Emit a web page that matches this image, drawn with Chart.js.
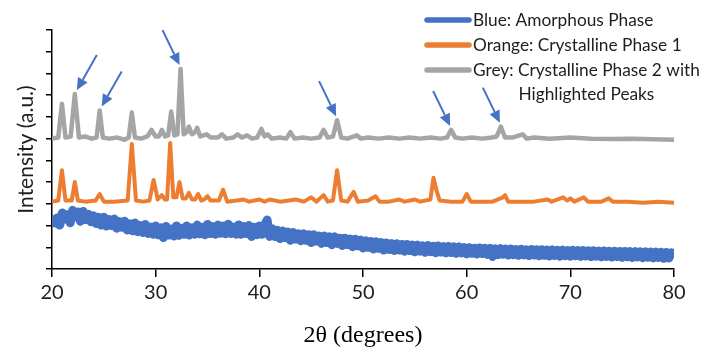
<!DOCTYPE html>
<html>
<head>
<meta charset="utf-8">
<script src="https://cdn.jsdelivr.net/npm/chart.js@4.4.0/dist/chart.umd.min.js"></script>
<style>
  body { margin: 0; background: #fff; }
  #wrap { width: 705px; height: 354px; position: relative; }
</style>
</head>
<body>
<div id="wrap"><canvas id="xrd"></canvas></div>
<script>
// Legend labels
const seriesLabels = [
  ["Blue: Amorphous Phase"],
  ["Orange: Crystalline Phase 1"],
  ["Grey: Crystalline Phase 2 with", "Highlighted Peaks"]
];
const seriesColors = ['#4472C4', '#ED7D31', '#A5A5A5'];

// Axis ticks
const xTicks = [20, 30, 40, 50, 60, 70, 80];
const yTickCount = 11; // unlabeled ticks 0..11

// Blue: amorphous (noisy band), sampled every 0.25 deg
const blueTheta = [
  20, 20.25, 20.5, 20.75, 21, 21.25, 21.5, 21.75, 22, 22.25, 22.5, 22.75, 23, 23.25, 23.5, 23.75, 24, 24.25, 24.5, 24.75,
  25, 25.25, 25.5, 25.75, 26, 26.25, 26.5, 26.75, 27, 27.25, 27.5, 27.75, 28, 28.25, 28.5, 28.75, 29, 29.25, 29.5, 29.75,
  30, 30.25, 30.5, 30.75, 31, 31.25, 31.5, 31.75, 32, 32.25, 32.5, 32.75, 33, 33.25, 33.5, 33.75, 34, 34.25, 34.5, 34.75,
  35, 35.25, 35.5, 35.75, 36, 36.25, 36.5, 36.75, 37, 37.25, 37.5, 37.75, 38, 38.25, 38.5, 38.75, 39, 39.25, 39.5, 39.75,
  40, 40.25, 40.5, 40.75, 41, 41.25, 41.5, 41.75, 42, 42.25, 42.5, 42.75, 43, 43.25, 43.5, 43.75, 44, 44.25, 44.5, 44.75,
  45, 45.25, 45.5, 45.75, 46, 46.25, 46.5, 46.75, 47, 47.25, 47.5, 47.75, 48, 48.25, 48.5, 48.75, 49, 49.25, 49.5, 49.75,
  50, 50.25, 50.5, 50.75, 51, 51.25, 51.5, 51.75, 52, 52.25, 52.5, 52.75, 53, 53.25, 53.5, 53.75, 54, 54.25, 54.5, 54.75,
  55, 55.25, 55.5, 55.75, 56, 56.25, 56.5, 56.75, 57, 57.25, 57.5, 57.75, 58, 58.25, 58.5, 58.75, 59, 59.25, 59.5, 59.75,
  60, 60.25, 60.5, 60.75, 61, 61.25, 61.5, 61.75, 62, 62.25, 62.5, 62.75, 63, 63.25, 63.5, 63.75, 64, 64.25, 64.5, 64.75,
  65, 65.25, 65.5, 65.75, 66, 66.25, 66.5, 66.75, 67, 67.25, 67.5, 67.75, 68, 68.25, 68.5, 68.75, 69, 69.25, 69.5, 69.75,
  70, 70.25, 70.5, 70.75, 71, 71.25, 71.5, 71.75, 72, 72.25, 72.5, 72.75, 73, 73.25, 73.5, 73.75, 74, 74.25, 74.5, 74.75,
  75, 75.25, 75.5, 75.75, 76, 76.25, 76.5, 76.75, 77, 77.25, 77.5, 77.75, 78, 78.25, 78.5, 78.75, 79, 79.25, 79.5, 79.75,
  80
];
const blueIntensity = [
  2.45, 2.12, 2.35, 2.02, 2.58, 2.3, 2.5, 2.13, 2.7, 2.4, 2.62, 2.2, 2.65, 2.28, 2.52, 2.18, 2.45, 2.1, 2.38, 2.02,
  2.38, 1.98, 2.28, 2.0, 2.3, 1.88, 2.18, 1.92, 2.2, 1.8, 2.08, 1.76, 2.12, 1.72, 2.0, 1.68, 2.05, 1.64, 1.93, 1.6,
  1.98, 1.58, 1.9, 1.45, 1.96, 1.56, 1.84, 1.52, 1.98, 1.55, 1.88, 1.6, 1.98, 1.56, 1.9, 1.6, 2.02, 1.62, 1.92, 1.58,
  2.05, 1.63, 1.95, 1.6, 2.02, 1.65, 1.98, 1.62, 2.06, 1.64, 1.93, 1.6, 2.03, 1.6, 1.95, 1.63, 2.0, 1.5, 1.92, 1.58,
  1.98, 1.6, 2.0, 2.25, 1.5, 1.85, 1.5, 1.78, 1.4, 1.75, 1.45, 1.7, 1.32, 1.68, 1.38, 1.62, 1.3, 1.62, 1.32, 1.58,
  1.22, 1.58, 1.28, 1.52, 1.18, 1.52, 1.22, 1.48, 1.12, 1.48, 1.18, 1.42, 1.08, 1.42, 1.12, 1.38, 1.03, 1.37, 1.07, 1.33,
  0.97, 1.3, 1.0, 1.27, 0.92, 1.25, 0.95, 1.22, 0.87, 1.2, 0.9, 1.17, 0.85, 1.16, 0.87, 1.13, 0.82, 1.13, 0.85, 1.1,
  0.79, 1.1, 0.82, 1.07, 0.77, 1.08, 0.8, 1.05, 0.75, 1.06, 0.78, 1.03, 0.74, 1.04, 0.76, 1.02, 0.72, 1.02, 0.74, 0.99,
  0.7, 0.98, 0.72, 0.96, 0.69, 0.97, 0.71, 0.95, 0.67, 0.95, 0.58, 0.93, 0.66, 0.94, 0.68, 0.92, 0.64, 0.92, 0.66, 0.9,
  0.63, 0.91, 0.65, 0.89, 0.62, 0.9, 0.64, 0.88, 0.61, 0.89, 0.63, 0.87, 0.6, 0.88, 0.62, 0.86, 0.59, 0.87, 0.61, 0.85,
  0.59, 0.86, 0.61, 0.85, 0.58, 0.85, 0.6, 0.84, 0.57, 0.84, 0.59, 0.83, 0.56, 0.83, 0.58, 0.82, 0.55, 0.82, 0.57, 0.81,
  0.54, 0.81, 0.56, 0.8, 0.53, 0.8, 0.55, 0.79, 0.52, 0.79, 0.54, 0.78, 0.51, 0.78, 0.53, 0.77, 0.49, 0.76, 0.51, 0.75,
  0.6
];

// Orange: crystalline phase 1
const orangeTheta = [
  20, 20.6, 20.96, 21.3, 21.9, 22.2, 22.5, 23.2, 24.2, 24.6, 25, 26, 27.3, 27.7, 28.1, 28.8, 29.4, 29.8, 30.2, 30.6,
  30.9, 31.1, 31.4, 31.7, 32, 32.3, 32.6, 32.9, 33.2, 33.5, 33.8, 34.1, 34.4, 34.7, 35, 35.3, 36.1, 36.5, 36.9, 37.8,
  38.5, 39, 40, 40.5, 41, 42, 43.5, 44.3, 45, 45.5, 46.2, 46.6, 47.1, 47.5, 47.9, 48.5, 49.1, 49.5, 50.5, 51.2,
  51.6, 52.5, 53.5, 54, 55, 55.5, 56.5, 56.8, 57.1, 57.4, 58.5, 59.6, 60, 60.4, 61.5, 62.5, 63.5, 63.7, 64, 65,
  66.5, 67.8, 68.2, 69.3, 69.7, 70, 70.4, 71.3, 71.7, 73, 73.7, 74.1, 75.5, 77, 78.5, 80
];
const orangeIntensity = [
  3.1, 3.15, 4.55, 3.15, 3.15, 4.0, 3.15, 3.1, 3.15, 3.45, 3.1, 3.1, 3.15, 5.75, 3.15, 3.1, 3.15, 4.1, 3.2, 3.4,
  3.2, 3.2, 5.8, 3.3, 3.3, 4.0, 3.25, 3.25, 3.5, 3.2, 3.2, 3.45, 3.15, 3.2, 3.35, 3.15, 3.15, 3.65, 3.1, 3.15,
  3.2, 3.1, 3.2, 3.1, 3.2, 3.1, 3.2, 3.1, 3.3, 3.1, 3.4, 3.1, 3.15, 4.55, 3.15, 3.1, 3.55, 3.1, 3.15, 3.35,
  3.1, 3.1, 3.2, 3.1, 3.2, 3.1, 3.2, 4.2, 3.6, 3.15, 3.1, 3.1, 3.45, 3.1, 3.1, 3.1, 3.3, 3.4, 3.1, 3.1,
  3.1, 3.2, 3.1, 3.3, 3.15, 3.25, 3.1, 3.3, 3.1, 3.1, 3.25, 3.1, 3.1, 3.05, 3.1, 3.05
];

// Grey: crystalline phase 2
const greyTheta = [
  20, 20.6, 20.96, 21.3, 21.8, 22.2, 22.6, 23.2, 23.8, 24.3, 24.6, 24.9, 25.5, 26.3, 27, 27.4, 27.7, 28, 28.6, 29.2,
  29.6, 30, 30.3, 30.6, 30.9, 31.2, 31.5, 31.8, 32.1, 32.4, 32.7, 33, 33.2, 33.5, 33.8, 34, 34.3, 34.9, 35.3, 36,
  36.4, 36.8, 37.5, 37.9, 38.3, 38.8, 39.3, 39.8, 40.2, 40.5, 40.8, 41.2, 42, 42.6, 43, 43.4, 44.2, 45, 45.8, 46.2,
  46.6, 47.1, 47.5, 47.9, 48.5, 49.4, 49.8, 50.5, 51.5, 52.5, 53.5, 54.5, 55.5, 56.5, 57.5, 58.1, 58.5, 58.9, 59.6, 60.5,
  61.5, 62.4, 62.9, 63.3, 63.7, 64.4, 65.4, 65.8, 66.5, 68, 70, 72, 74, 76, 78, 80
];
const greyIntensity = [
  6.0, 6.05, 7.6, 6.05, 6.1, 8.05, 6.05, 6.1, 6.0, 6.05, 7.3, 6.05, 6.0, 6.05, 5.95, 6.05, 7.2, 6.05, 6.0, 6.1,
  6.4, 6.1, 6.1, 6.4, 6.1, 6.15, 7.25, 6.15, 6.2, 9.2, 6.2, 6.3, 6.55, 6.2, 6.3, 6.5, 6.1, 6.2, 6.05, 6.05,
  6.2, 6.0, 6.05, 6.2, 6.05, 6.15, 6.0, 6.05, 6.45, 6.1, 6.2, 6.0, 6.05, 6.0, 6.3, 6.0, 6.05, 6.0, 6.05, 6.4,
  6.05, 6.1, 6.85, 6.05, 6.0, 6.15, 6.0, 6.05, 6.0, 6.05, 6.0, 6.05, 6.0, 6.05, 6.0, 6.05, 6.4, 6.05, 6.0, 6.05,
  6.0, 6.05, 6.1, 6.55, 6.05, 6.05, 6.2, 6.0, 6.05, 6.0, 6.05, 6.0, 5.98, 6.0, 5.97, 5.95
];

// Highlighted grey peaks (arrows)
const arrowTheta = [22.2, 24.6, 32.4, 47.5, 58.5, 63.3];
const arrowIntensity = [8.05, 7.3, 9.2, 6.85, 6.4, 6.55];
const arrowFrom = ['right', 'right', 'left', 'left', 'left', 'left'];

const toPoints = (xs, ys) => xs.map((v, i) => ({ x: v, y: ys[i] }));

const FONT = 'Lato, "Open Sans", sans-serif';
const textColor = '#1e1e1e';

const overlay = {
  id: 'overlay',
  afterDraw(chart) {
    const { ctx, scales: { x, y } } = chart;
    ctx.save();

    // arrows to highlighted peaks
    ctx.strokeStyle = '#4472C4';
    ctx.fillStyle = '#4472C4';
    ctx.lineWidth = 2;
    arrowTheta.forEach((t, i) => {
      const px = x.getPixelForValue(t);
      const py = y.getPixelForValue(arrowIntensity[i]);
      const tipX = arrowFrom[i] === 'right' ? px + 2 : px - 1;
      const tipY = py - 4;
      const tailX = arrowFrom[i] === 'right' ? tipX + 20 : tipX - 17;
      const tailY = tipY - 35;
      const ang = Math.atan2(tipY - tailY, tipX - tailX);
      const hl = 12, hw = 5.5;
      const bx = tipX - hl * Math.cos(ang), by = tipY - hl * Math.sin(ang);
      ctx.beginPath();
      ctx.moveTo(tailX, tailY);
      ctx.lineTo(bx, by);
      ctx.stroke();
      ctx.beginPath();
      ctx.moveTo(tipX, tipY);
      ctx.lineTo(bx + hw * Math.sin(ang), by - hw * Math.cos(ang));
      ctx.lineTo(bx - hw * Math.sin(ang), by + hw * Math.cos(ang));
      ctx.closePath();
      ctx.fill();
    });

    // legend
    const lx0 = 427, lx1 = 469, tx = 473;
    const rows = [20, 45, 70];
    ctx.font = '17.3px ' + FONT;
    ctx.textBaseline = 'middle';
    seriesLabels.forEach((lines, i) => {
      ctx.strokeStyle = seriesColors[i];
      ctx.lineWidth = 5.5;
      ctx.lineCap = 'round';
      ctx.beginPath();
      ctx.moveTo(lx0, rows[i]);
      ctx.lineTo(lx1, rows[i]);
      ctx.stroke();
      ctx.fillStyle = textColor;
      ctx.textAlign = 'left';
      ctx.fillText(lines[0], tx, rows[i]);
      if (lines[1]) {
        const w0 = ctx.measureText(lines[0]).width;
        ctx.textAlign = 'center';
        ctx.fillText(lines[1], tx + w0 / 2, rows[i] + 24);
      }
    });
    ctx.restore();
  }
};

new Chart(document.getElementById('xrd'), {
  type: 'line',
  data: {
    datasets: [
      { label: seriesLabels[0].join(' '), data: toPoints(blueTheta, blueIntensity),
        borderColor: seriesColors[0], borderWidth: 9, borderCapStyle: 'butt' },
      { label: seriesLabels[1].join(' '), data: toPoints(orangeTheta, orangeIntensity),
        borderColor: seriesColors[1], borderWidth: 4 },
      { label: seriesLabels[2].join(' '), data: toPoints(greyTheta, greyIntensity),
        borderColor: seriesColors[2], borderWidth: 4.5 }
    ]
  },
  options: {
    responsive: true,
    maintainAspectRatio: false,
    animation: false,
    elements: {
      point: { radius: 0 },
      line: { tension: 0, borderJoinStyle: 'round', borderCapStyle: 'round' }
    },
    layout: { padding: { top: 30, right: 31, left: 0, bottom: 0 } },
    scales: {
      x: {
        type: 'linear',
        min: xTicks[0],
        max: xTicks[xTicks.length - 1],
        afterBuildTicks: s => { s.ticks = xTicks.map(v => ({ value: v })); },
        afterFit: s => { s.height = 85; },
        border: { display: true, color: '#000', width: 1.5 },
        grid: { drawOnChartArea: false, drawTicks: true, tickLength: 8, color: '#000', lineWidth: 1.5 },
        ticks: { color: textColor, font: { family: FONT, size: 20 }, padding: 4, maxRotation: 0 },
        title: { display: true, text: '2θ (degrees)', color: '#000',
          font: { family: '"Liberation Serif", serif', size: 24 }, padding: { top: 9 } }
      },
      y: {
        min: 0,
        max: yTickCount,
        ticks: { display: false, stepSize: 1 },
        afterFit: s => { s.width = 52; },
        border: { display: true, color: '#000', width: 1.5 },
        grid: { drawOnChartArea: false, drawTicks: true, tickLength: 6, color: '#000', lineWidth: 1.5 },
        title: { display: true, text: 'Intensity (a.u.)', color: textColor,
          font: { family: FONT, size: 21 }, padding: { top: 14 } }
      }
    },
    plugins: {
      legend: { display: false },
      tooltip: { enabled: false }
    }
  },
  plugins: [overlay]
});
</script>
</body>
</html>
